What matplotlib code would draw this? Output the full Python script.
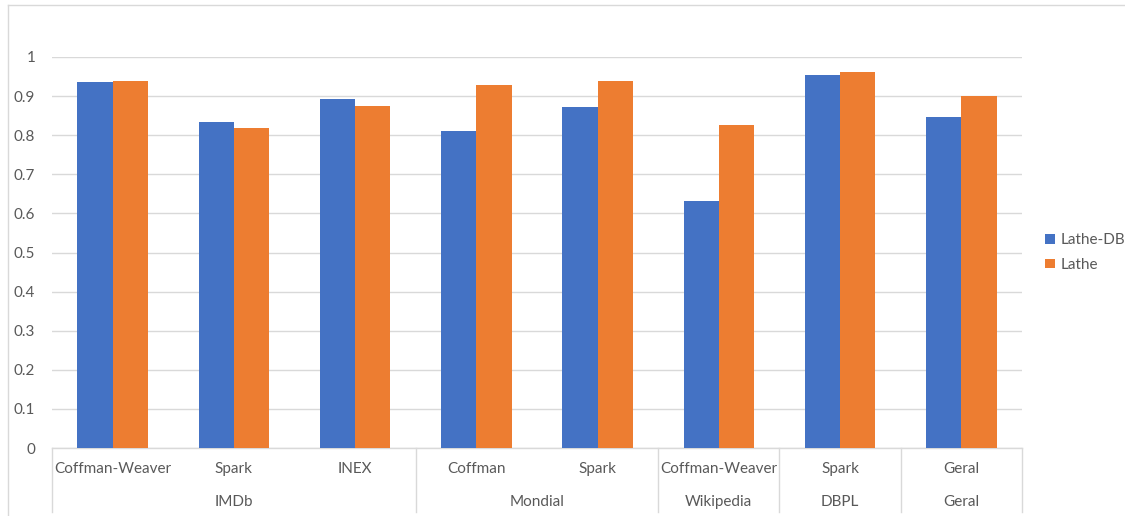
import numpy as np
import matplotlib.pyplot as plt
import matplotlib.transforms as mtransforms
from matplotlib.lines import Line2D

plt.rcParams['font.family'] = ['Lato', 'DejaVu Sans']

# sub-categories (bottom row) and their datasets (second row)
methods = ["Coffman-Weaver", "Spark", "INEX", "Coffman", "Spark",
           "Coffman-Weaver", "Spark", "Geral"]
datasets = ["IMDb", "Mondial", "Wikipedia", "DBPL", "Geral"]
dataset_sizes = [3, 2, 1, 1, 1]

lathe_db = [0.936, 0.835, 0.893, 0.811, 0.872, 0.632, 0.955, 0.847]
lathe = [0.939, 0.819, 0.875, 0.928, 0.939, 0.826, 0.962, 0.899]

blue = "#4472C4"
orange = "#ED7D31"
grid_col = "#D9D9D9"
text_col = "#595959"
fs = 11

W, H = 1125, 516
fig = plt.figure(figsize=(W / 100, H / 100), dpi=100)
ax = fig.add_axes([52 / W, 1 - 448 / H, (1022 - 52) / W, (448 - 57) / H])

x = np.arange(len(methods))
bw = 0.29
ax.bar(x - bw / 2, lathe_db, bw, color=blue, label="Lathe-DB", zorder=3)
ax.bar(x + bw / 2, lathe, bw, color=orange, label="Lathe", zorder=3)

ax.set_xlim(-0.5, len(methods) - 0.5)
ax.set_ylim(0, 1)
ax.set_yticks(np.arange(0, 1.01, 0.1))
ax.set_yticklabels(["0"] + [f"{v:.1f}" for v in np.arange(0.1, 0.95, 0.1)] + ["1"])
ax.yaxis.grid(True, color=grid_col, linewidth=1, zorder=0)
ax.tick_params(axis="y", length=0, pad=12, labelsize=fs, labelcolor=text_col)
ax.set_xticks([])
for side in ["top", "right", "left"]:
    ax.spines[side].set_visible(False)
ax.spines["bottom"].set_color(grid_col)
ax.spines["bottom"].set_linewidth(1)

# two-row category axis
trans = mtransforms.blended_transform_factory(ax.transData, ax.transAxes)
px = 1 / 391
for i, m in enumerate(methods):
    ax.text(i, -21 * px, m, transform=trans, ha="center", va="center",
            fontsize=fs, color=text_col)

start = 0
bounds = [-0.5]
for name, n in zip(datasets, dataset_sizes):
    mid = start + (n - 1) / 2
    ax.text(mid, -54 * px, name, transform=trans, ha="center", va="center",
            fontsize=fs, color=text_col)
    start += n
    bounds.append(start - 0.5)

for b in bounds:
    ax.add_line(Line2D([b, b], [0, -64 * px], transform=trans, color=grid_col,
                       linewidth=1, clip_on=False))

leg = ax.legend(loc="center left", bbox_to_anchor=(1.01, 0.5), frameon=False,
                fontsize=fs, handlelength=0.6, handleheight=0.6,
                handletextpad=0.4, labelspacing=0.7)
for t in leg.get_texts():
    t.set_color(text_col)

# chart border
fig.add_artist(Line2D([8 / W, 8 / W], [0, 1 - 5 / H], transform=fig.transFigure,
                      color=grid_col, linewidth=1))
fig.add_artist(Line2D([8 / W, 1], [1 - 5 / H, 1 - 5 / H], transform=fig.transFigure,
                      color=grid_col, linewidth=1))

fig.savefig("out.png", dpi=100, facecolor="white")
